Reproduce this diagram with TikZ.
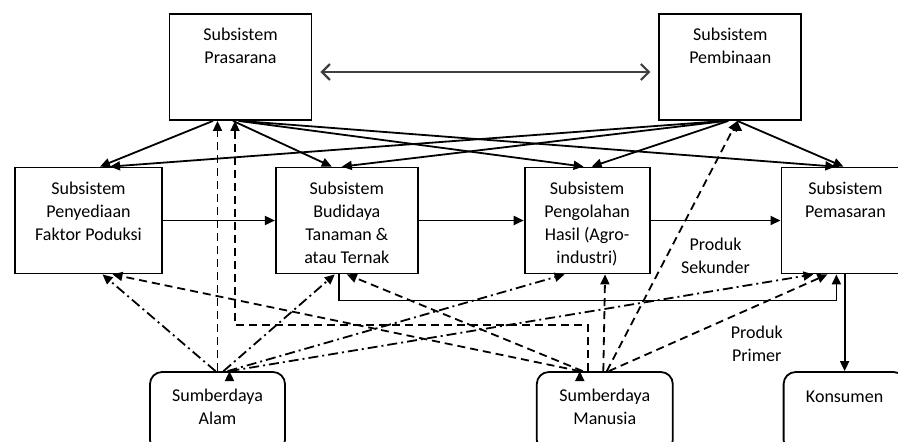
\documentclass[tikz,border=0pt]{standalone}
\usepackage{fontspec}
\setmainfont{Carlito}
\usetikzlibrary{positioning, arrows.meta}
\tikzset{
    >={Triangle[length=5pt, width=4.5pt]}, % filled arrow heads
    every node/.style={font=\fontsize{9}{11.5}\selectfont, text=black},
    box/.style={draw, line width=0.9pt, minimum width=71pt, minimum height=53pt}, % subsystems
    res/.style={draw, line width=0.9pt, rounded corners=6pt, minimum width=67.5pt, minimum height=40pt}, % resources
    intext/.style={anchor=north, align=center, yshift=-4pt}, % text at the top of a box
    restext/.style={intext, yshift=-1.5pt},
    link/.style={->, line width=0.9pt},
    manline/.style={->, line width=0.9pt, dash pattern=on 4pt off 2.5pt}, % from sumberdaya manusia
    alamline/.style={->, line width=0.9pt, dash pattern=on 5pt off 2pt on 1pt off 2pt}, % from sumberdaya alam
}
\begin{document}
\begin{tikzpicture}[x=0.5pt, y=-0.5pt]
\useasboundingbox (0,0) rectangle (898,441);
% top row
\node[box, label={[intext]north:Subsistem\\Prasarana}] (pra) at (240.5,67) {};
\node[box, right=173pt of pra, label={[intext]north:Subsistem\\Pembinaan}] (pem) {};
% middle row
\node[box, minimum width=73.5pt, label={[intext]north:Subsistem\\Penyediaan\\Faktor Poduksi}] (pen) at (88.5,220.5) {};
\node[box, right=56pt of pen, label={[intext]north:Subsistem\\Budidaya\\Tanaman \&\\atau Ternak}] (bud) {};
\node[box, minimum width=62.5pt, right=52.5pt of bud, label={[intext]north:Subsistem\\Pengolahan\\Hasil (Agro-\\industri)}] (pgl) {};
\node[box, minimum width=64pt, right=65pt of pgl, label={[intext]north:Subsistem\\Pemasaran}] (pms) {};
% bottom row
\node[res, label={[restext]north:Sumberdaya\\Alam}] (sda) at (217.5,412) {};
\node[res, minimum width=68pt, right=125pt of sda, label={[restext]north:Sumberdaya\\Manusia}] (sdm) {};
\node[res, minimum width=61pt, right=54.5pt of sdm, label={[restext, yshift=-1pt]north:Konsumen}] (kon) {};

\draw[<->, line width=1.1pt, black!75, >={Straight Barb[length=4pt, width=8pt]}, shorten <=4pt, shorten >=4pt]
    ([yshift=-2.5pt]pra.east) -- ([yshift=-2.5pt]pem.west);

% solid links
\draw[link]
    ([xshift=-13.75pt]pra.south) edge ([xshift=5.75pt]pen.north)
    ([xshift=-3.75pt]pra.south) edge ([xshift=-7.5pt]bud.north)
    ([xshift=-1pt]pra.south) edge ([xshift=-1.75pt]pgl.north)
    (pra.south) edge ([xshift=-5pt]pms.north)
    ([xshift=-3pt]pem.south) edge ([xshift=10.75pt]pen.north)
    ([xshift=-2pt]pem.south) edge ([xshift=-2.5pt]bud.north)
    ([xshift=-1pt]pem.south) edge ([xshift=2.25pt]pgl.north)
    ([xshift=3.5pt]pem.south) edge ([xshift=-1pt]pms.north)
    (pen) edge (bud)
    (bud) edge (pgl)
    (pgl) edge node[below=5pt, align=center] {Produk\\Sekunder} (pms);
\draw[link] ([xshift=-4pt]bud.south) -- ++(0,26) -| node[pos=0.42, below=9pt, align=center] {Produk\\Primer} ([xshift=-4.5pt]pms.south);
\draw[link] (kon.north |- pms.south) -- (kon.north);

% sumberdaya manusia
\draw[manline] ([xshift=-8.5pt]sdm.north) -- ++(0,-46) -| ([xshift=-2.75pt]pra.south);
\draw[manline]
    (sda.north) edge ([xshift=-11.5pt]pra.south)
    ([xshift=-0.75pt]sdm.north) edge ([xshift=9pt]pgl.south)
    ([xshift=1pt]sdm.north) edge ([xshift=3.5pt]pem.south)
    ([xshift=2pt]sdm.north) edge ([xshift=-9pt]pms.south)
    ([xshift=-11pt]sdm.north) edge (bud.south)
    ([xshift=-12.5pt]sdm.north) edge ([xshift=12pt]pen.south);

% sumberdaya alam
\draw[alamline]
    ([xshift=-1pt]sda.north) edge ([xshift=7pt]pen.south)
    ([xshift=3pt]sda.north) edge ([xshift=-6pt]bud.south)
    ([xshift=5pt]sda.north) edge ([xshift=-11.25pt]pgl.south)
    ([xshift=6pt]sda.north) edge ([xshift=-16pt]pms.south);
\end{tikzpicture}
\end{document}
